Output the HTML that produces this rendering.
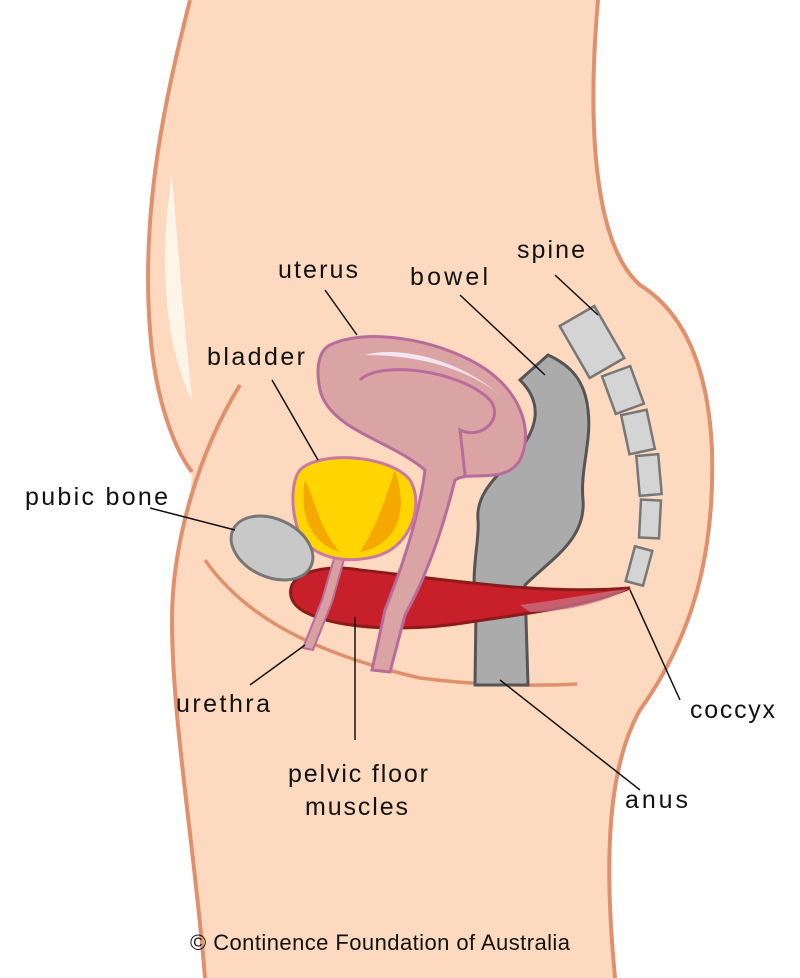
<!DOCTYPE html>
<html><head><meta charset="utf-8"><style>
html,body{margin:0;padding:0;background:#fff;}
svg{display:block;}
text{font-family:"Liberation Sans",sans-serif;font-size:25px;fill:#111;}
</style></head><body>
<svg width="800" height="978" viewBox="0 0 800 978" xmlns="http://www.w3.org/2000/svg">
<path d="M190,0 C170,80 140,200 150,330 C155,400 175,450 192,472 L190,500 C178,550 172,590 172,620 C172,720 195,850 205,978 L615,978 C608,900 600,780 640,710 C690,640 715,560 712,450 C708,360 680,310 640,285 C600,250 585,150 598,0 Z" fill="#fdd9bf"/>
<path d="M190,0 C170,80 140,200 150,330 C155,400 175,450 192,472" fill="none" stroke="#e0906c" stroke-width="4"/>
<path d="M240,385 C200,450 172,540 172,620 C172,720 195,850 205,978" fill="none" stroke="#e0906c" stroke-width="4"/>
<path d="M598,0 C585,150 600,250 640,285 C680,310 708,360 712,450 C715,560 690,640 640,710 C600,780 608,900 615,978" fill="none" stroke="#e0906c" stroke-width="4"/>
<path d="M172,175 C160,250 162,340 192,400 C185,330 178,250 172,175 Z" fill="#fdf6e8"/>
<path d="M205,560 C240,610 300,650 420,678 C480,686 540,686 577,684" fill="none" stroke="#e0906c" stroke-width="3.5"/>
<path d="M520,380 L548,355 C570,365 585,380 588,410 C592,440 580,470 583,500 C586,540 550,560 525,585 L528,685 L475,685 L476,610 C470,570 480,540 478,520 C475,490 505,470 520,450 C535,430 545,405 520,380 Z" fill="#ababab" stroke="#555" stroke-width="3"/>
<path d="M292,585 C300,570 330,565 360,570 C450,580 540,595 630,588 C590,605 540,612 470,622 C410,632 340,630 305,612 C292,605 288,595 292,585 Z" fill="#c8202a" stroke="#8b1a1a" stroke-width="3"/>
<path d="M520,605 C560,600 600,592 628,589 C600,605 560,612 530,612 Z" fill="#c87a90" opacity=".7"/>
<path d="M335,555 L322,600 L303,648 L313,650 L332,602 L345,556 Z" fill="#d9a0a0" stroke="#b86c9c" stroke-width="2"/>
<path d="M330,345 C360,330 420,335 470,360 C520,385 535,430 520,460 C505,485 470,470 455,480 C445,520 430,570 405,615 L390,672 L372,670 L385,610 C405,560 420,510 425,470 C390,440 330,430 320,390 C315,365 320,350 330,345 Z" fill="#dba4a4" stroke="#b86c9c" stroke-width="3"/>
<path d="M360,380 C380,360 460,370 490,400 C505,420 480,440 460,430 L465,475" fill="none" stroke="#b86c9c" stroke-width="3"/>
<path d="M365,355 C400,345 460,360 500,395 C470,370 420,355 365,355 Z" fill="#f2e6f0"/>
<path d="M300,470 C320,450 390,455 410,480 C425,505 410,545 380,555 C350,565 310,560 298,530 C290,505 292,480 300,470 Z" fill="#ffd500" stroke="#c87aa0" stroke-width="3"/>
<path d="M305,480 C315,500 320,530 340,552 C315,545 298,520 305,480 Z M395,470 C385,500 375,530 360,552 C395,545 410,515 395,470 Z" fill="#f5a800"/>
<ellipse cx="272" cy="548" rx="43" ry="29" transform="rotate(25 272 548)" fill="#c8c8c8" stroke="#777" stroke-width="3"/>
<g fill="#d4d4d4" stroke="#777" stroke-width="2.5">
<rect x="572" y="312" width="40" height="60" transform="rotate(-30 592 342)"/>
<rect x="608" y="370" width="30" height="40" transform="rotate(-20 623 390)"/>
<rect x="625" y="412" width="26" height="40" transform="rotate(-12 638 432)"/>
<rect x="638" y="455" width="22" height="40" transform="rotate(-5 649 475)"/>
<rect x="640" y="500" width="20" height="38" transform="rotate(3 650 519)"/>
<rect x="630" y="548" width="18" height="36" transform="rotate(15 639 566)"/>
</g>
<g stroke="#111" stroke-width="1.5">
<line x1="555" y1="275" x2="598" y2="315"/>
<line x1="325" y1="290" x2="357" y2="335"/>
<line x1="460" y1="295" x2="545" y2="375"/>
<line x1="272" y1="380" x2="318" y2="460"/>
<line x1="150" y1="508" x2="235" y2="530"/>
<line x1="250" y1="685" x2="305" y2="645"/>
<line x1="355" y1="740" x2="355" y2="617"/>
<line x1="680" y1="700" x2="630" y2="590"/>
<line x1="640" y1="790" x2="500" y2="680"/>
</g>
<text x="517" y="258" textLength="68">spine</text>
<text x="278" y="278" textLength="80">uterus</text>
<text x="410" y="285" textLength="78">bowel</text>
<text x="207" y="365" textLength="98">bladder</text>
<text x="25" y="505" textLength="143">pubic bone</text>
<text x="176" y="712" textLength="94">urethra</text>
<text x="288" y="782" textLength="140">pelvic floor</text>
<text x="305" y="815" textLength="103">muscles</text>
<text x="690" y="718" textLength="85">coccyx</text>
<text x="625" y="808" textLength="63">anus</text>
<text x="190" y="950" textLength="380" style="font-size:22px">© Continence Foundation of Australia</text>
</svg>
</body></html>
